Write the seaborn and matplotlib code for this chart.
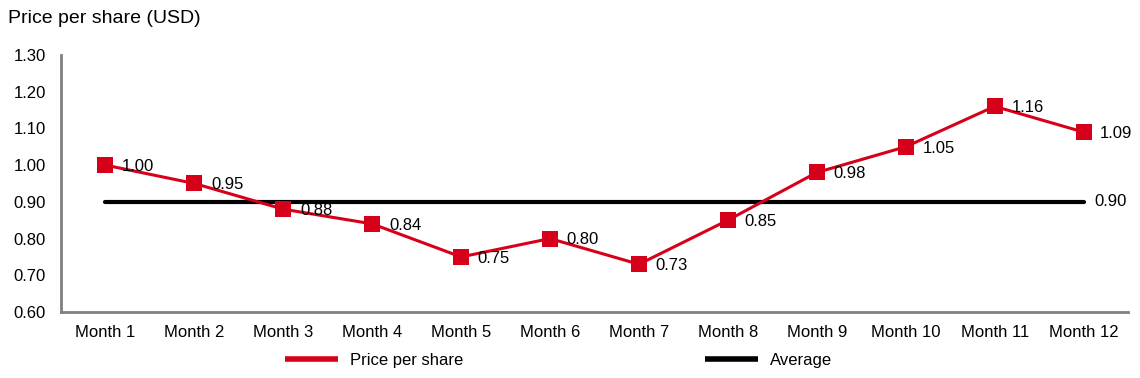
import numpy as np
import pandas as pd
import matplotlib
matplotlib.use("Agg")
import matplotlib.pyplot as plt
import seaborn as sns

months = [f"Month {i}" for i in range(1, 13)]
price = [1.00, 0.95, 0.88, 0.84, 0.75, 0.80, 0.73, 0.85, 0.98, 1.05, 1.16, 1.09]
average = 0.90
y_ticks = [0.60, 0.70, 0.80, 0.90, 1.00, 1.10, 1.20, 1.30]

RED = "#d7001b"
GREY = "#808080"

sns.set_theme(style="white")
plt.rcParams["font.family"] = ["Liberation Sans", "DejaVu Sans"]
plt.rcParams["text.color"] = "black"

df = pd.DataFrame({"Month": months, "Price": price, "Average": [average] * len(months)})

fig = plt.figure(figsize=(11.4, 3.78), dpi=100)
ax = fig.add_axes([0.0535, 0.1746, 0.936, 0.68])

sns.lineplot(data=df, x="Month", y="Average", ax=ax, color="black", linewidth=3,
             label="Average", zorder=2, sort=False)
sns.lineplot(data=df, x="Month", y="Price", ax=ax, color=RED, linewidth=2.2,
             marker="s", markersize=11.5, markeredgewidth=0, label="Price per share",
             zorder=3, sort=False)

# value labels to the right of each point
for i, v in enumerate(price):
    ax.annotate(f"{v:.2f}", (i, v), xytext=(12, -1), textcoords="offset points",
                va="center", ha="left", fontsize=12, color="black")
ax.annotate(f"{average:.2f}", (len(months) - 1, average), xytext=(8, 0),
            textcoords="offset points", va="center", ha="left", fontsize=12)

ax.set_xlim(-0.5, len(months) - 0.5)
ax.set_ylim(0.60, 1.30)
ax.set_yticks(y_ticks)
ax.set_yticklabels([f"{t:.2f}" for t in y_ticks])
ax.set_xlabel("")
ax.set_ylabel("")
ax.tick_params(axis="both", length=0, labelsize=12, colors="black")
ax.tick_params(axis="x", pad=9)
ax.tick_params(axis="y", pad=11)

for s in ["top", "right"]:
    ax.spines[s].set_visible(False)
for s in ["left", "bottom"]:
    ax.spines[s].set_color(GREY)
    ax.spines[s].set_linewidth(2)

fig.text(0.007, 0.952, "Price per share (USD)", fontsize=14, va="center", ha="left",
         color="black")

handles, labels = ax.get_legend_handles_labels()
ax.get_legend().remove()
order = [1, 0]
fig.legend([handles[i] for i in order], [labels[i] for i in order],
           loc="center", bbox_to_anchor=(0.49, 0.047), ncol=2, frameon=False,
           fontsize=12, handlelength=3.2, columnspacing=14.5, handletextpad=0.7)
# legend handles without markers, flat ends
leg = fig.legends[0]
for line in leg.get_lines():
    line.set_marker("")
    line.set_linewidth(4)
    line.set_solid_capstyle("butt")

fig.savefig("out.png", dpi=100)
